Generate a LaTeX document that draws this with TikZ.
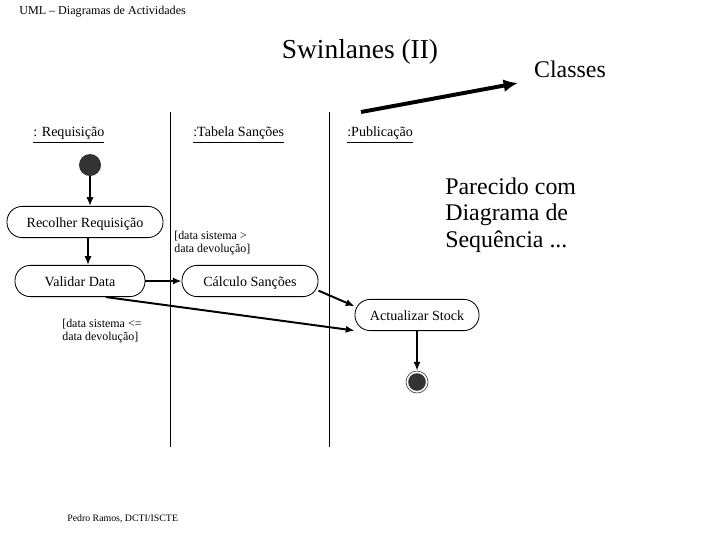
\documentclass[tikz,border=0pt]{standalone}
\usepackage{fontspec}
\setmainfont{Liberation Serif}
\usepackage{tikz}
\usetikzlibrary{arrows.meta, positioning}

\begin{document}
\begin{tikzpicture}[
  x=0.025cm, y=-0.025cm,
  activity/.style={rectangle, draw=black, line width=0.6pt, rounded corners=0.38cm, fill=white, minimum height=0.78cm, inner sep=2pt, text height=8.5pt, text depth=1.2pt, font=\fontsize{10}{12}\selectfont},
  lanehead/.style={anchor=west, inner sep=0pt, font=\fontsize{10}{12}\selectfont},
  guard/.style={anchor=west, inner sep=0pt, align=left, font=\fontsize{8.5}{9.4}\selectfont},
  lane/.style={line width=0.7pt, black},
  arrow/.style={-{Latex[length=2.2mm, width=1.8mm]}, line width=1.4pt, black},
  bigarrow/.style={-{Latex[length=3.6mm, width=3.2mm]}, line width=2.8pt, black},
  initial/.style={circle, fill=black!80, minimum size=0.55cm, inner sep=0pt},
  finalring/.style={circle, draw=black!70, line width=0.5pt, fill=white, minimum size=0.55cm, inner sep=0pt}
]
\useasboundingbox (0,0) rectangle (720,540);

\node[anchor=west, inner sep=0pt, font=\fontsize{8.6}{10}\selectfont] (title) at (19,12) {UML -- Diagramas de Actividades};
\node[font=\fontsize{19.5}{22}\selectfont] (heading) at (360,52) {Swinlanes (II)};
\node[font=\fontsize{17}{20}\selectfont] (classes) at (570,69) {Classes};

% swimlanes
\node[lanehead] (laneA) at (33,135) {\underline{: Requisição}};
\node[lanehead] (laneB) at (193,135) {\underline{:Tabela Sanções}};
\node[lanehead] (laneC) at (347,135) {\underline{:Publicação}};
\coordinate (sepAtop) at (170,112);
\coordinate (sepAbot) at (170,447);
\coordinate (sepBtop) at (329,112);
\coordinate (sepBbot) at (329,447);
\draw[lane] (sepAtop) -- (sepAbot);
\draw[lane] (sepBtop) -- (sepBbot);

% activities
\node[initial] (start) at (90,165) {};
\node[activity, minimum width=3.9cm] (recolher) at (85,222) {Recolher Requisição};
\node[activity, minimum width=3.25cm] (validar) at (80,281) {Validar Data};
\node[activity, minimum width=3.4cm] (calculo) at (250,281) {Cálculo Sanções};
\node[activity, minimum width=3.1cm] (actualizar) at (417,315) {Actualizar Stock};
\node[finalring] (final) at (417,382) {};
\fill[black!80] (final.center) circle (0.22cm);

\node[guard] (guardA) at (174,243) {[data sistema >\\data devolução]};
\node[guard] (guardB) at (62,331) {[data sistema <=\\data devolução]};

\draw[arrow] (start) -- (start |- recolher.north);
\draw[arrow] (recolher.south -| 88,0) -- (validar.north -| 88,0);
\draw[arrow] (validar.east) -- (calculo.west);
\draw[arrow] (validar.-32) -- (actualizar.194);
\draw[arrow] (calculo.-8) -- (actualizar.172);
\draw[arrow] (actualizar.south) -- (final.north);

% Classes pointer
\coordinate (ptrfrom) at (361,112);
\coordinate (ptrto) at (518,83);
\draw[bigarrow] (ptrfrom) -- (ptrto);

\node[anchor=west, inner sep=0pt, align=left, font=\fontsize{17}{18.8}\selectfont] (note) at (445,215) {Parecido com\\Diagrama de\\Sequência ...};

\node[anchor=west, inner sep=0pt, font=\fontsize{7}{8}\selectfont] (footer) at (67,519) {Pedro Ramos, DCTI/ISCTE};
\end{tikzpicture}
\end{document}
